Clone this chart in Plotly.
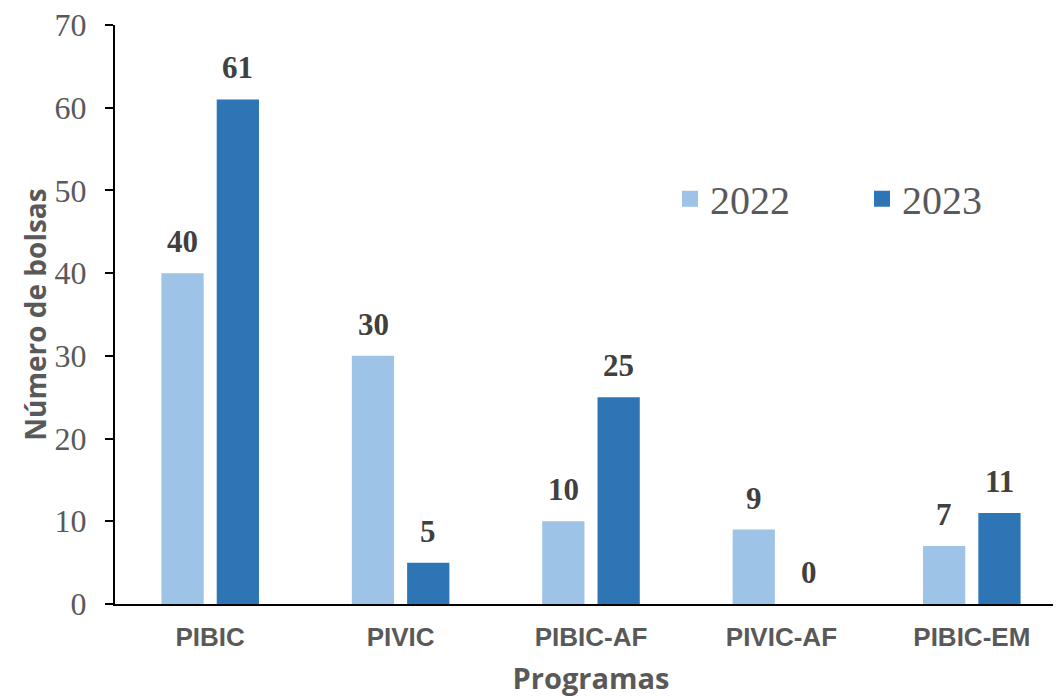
import plotly.graph_objects as go

categorias = ["PIBIC", "PIVIC", "PIBIC-AF", "PIVIC-AF", "PIBIC-EM"]
anos = ["2022", "2023"]
valores_2022 = [40, 30, 10, 9, 7]
valores_2023 = [61, 5, 25, 0, 11]
y_ticks = [0, 10, 20, 30, 40, 50, 60, 70]

cores = {"2022": "#9DC3E6", "2023": "#2E75B6"}
serie = {"2022": valores_2022, "2023": valores_2023}
desloc = {"2022": -27.5, "2023": 27.5}

fig = go.Figure()
for a in anos:
    fig.add_trace(go.Bar(x=categorias, y=serie[a], name=a, marker_color=cores[a],
                         marker_line_width=0, showlegend=False))
for a in anos:
    fig.add_trace(go.Scatter(x=[None], y=[None], mode="markers", name=a,
                             marker=dict(symbol="square", size=16, color=cores[a])))

for a in anos:
    for c, v in zip(categorias, serie[a]):
        fig.add_annotation(x=c, y=v, text=f"<b>{v}</b>", showarrow=False,
                           xshift=desloc[a], yshift=12, yanchor="bottom",
                           font=dict(family="Liberation Serif", size=31, color="#404040"))

fig.update_layout(
    width=1061, height=697,
    margin=dict(l=107, r=2, t=17, b=101, autoexpand=False),
    plot_bgcolor="white", paper_bgcolor="white",
    barmode="group", bargap=0.419, bargroupgap=0.236,
    legend=dict(orientation="h", x=0.583, y=0.70, xanchor="left", yanchor="middle",
                font=dict(family="Liberation Serif", size=40, color="#595959"),
                entrywidth=147, entrywidthmode="pixels", bgcolor="rgba(0,0,0,0)"),
)
fig.update_yaxes(range=[0, 70], tickvals=y_ticks, showgrid=False, zeroline=False,
                 showline=True, linecolor="black", linewidth=2,
                 ticks="outside", ticklen=8, tickwidth=2, tickcolor="black",
                 ticklabelstandoff=12, automargin=False, ticklabeloverflow="allow",
                 tickfont=dict(family="Liberation Serif", size=32, color="#595959"),
                 title=dict(text="<b>Número de bolsas</b>", standoff=0,
                            font=dict(family="Open Sans", size=28, color="#595959")))
fig.update_xaxes(range=[-0.5, 4.5], showgrid=False, showline=True, linecolor="black",
                 linewidth=1.5, ticks="", ticklabelstandoff=9, automargin=False,
                 ticklabeloverflow="allow",
                 tickvals=categorias, ticktext=[f"<b>{c}</b>" for c in categorias],
                 tickfont=dict(family="Liberation Sans", size=26, color="#595959"),
                 title=dict(text="<b>Programas</b>", standoff=18,
                            font=dict(family="Open Sans", size=29, color="#595959")))

fig.write_html("out.html")
